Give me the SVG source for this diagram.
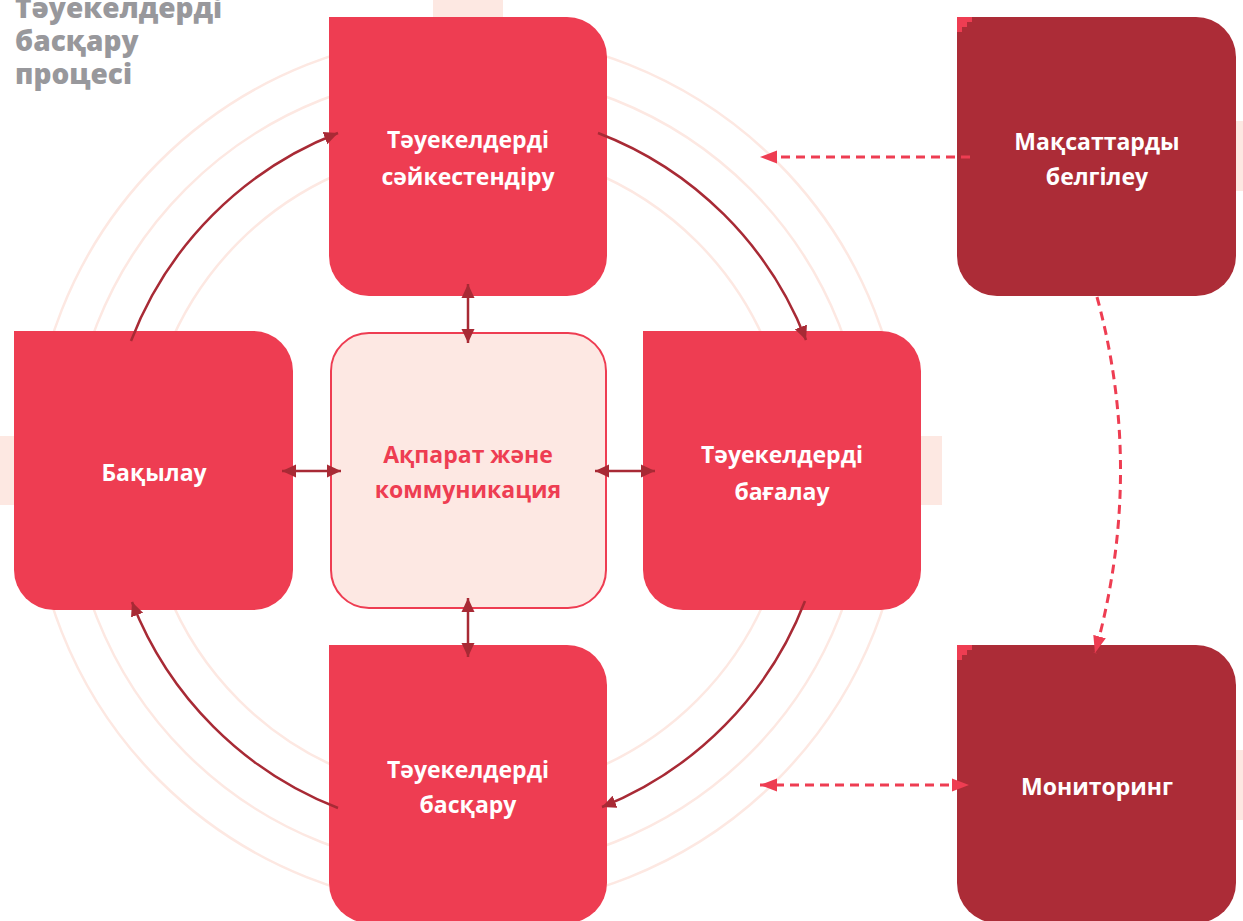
<svg xmlns="http://www.w3.org/2000/svg" width="1243" height="921" viewBox="0 0 1243 921">
<style>
.bg{fill:#fde8e2}
.ring{fill:none;stroke:#fde8e2;stroke-width:2.5}
.red{fill:#ee3d52}
.dark{fill:#ac2c37}
.lbl{font-family:"Open Sans","Noto Sans","Liberation Sans",sans-serif;font-weight:700;font-size:23px;text-anchor:middle;fill:#ffffff}
.lblc{fill:#ee3d52}
.title{font-family:"Open Sans","Noto Sans","Liberation Sans",sans-serif;font-weight:800;font-size:28px;fill:#98989c}
.solid{fill:none;stroke:#a82a35;stroke-width:2.5}
.dash{fill:none;stroke:#ee3d52;stroke-width:3;stroke-dasharray:9 6}
</style>
<defs>
<marker id="ah" markerUnits="userSpaceOnUse" markerWidth="15" markerHeight="14" refX="14" refY="7" orient="auto-start-reverse" viewBox="0 0 15 14">
<path d="M0,0.5 L14,7 L0,13.5 z" fill="#a82a35"/>
</marker>
<marker id="ahd" markerUnits="userSpaceOnUse" markerWidth="18" markerHeight="14" refX="17" refY="7" orient="auto-start-reverse" viewBox="0 0 18 14">
<path d="M0,0.5 L17,7 L0,13.5 z" fill="#ee3d52"/>
</marker>
</defs>

<g id="background">
<rect class="bg" x="433" y="0" width="70" height="17"/>
<rect class="bg" x="0" y="436" width="14" height="69"/>
<rect class="bg" x="921" y="436" width="21" height="69"/>
<rect class="bg" x="1236" y="121" width="7" height="70"/>
<rect class="bg" x="1236" y="750" width="7" height="70"/>
<circle class="ring" cx="468" cy="471" r="437"/>
<circle class="ring" cx="468" cy="471" r="399"/>
<circle class="ring" cx="468" cy="471" r="324"/>
</g>

<g id="title">
<text class="title" x="15" y="18">Тәуекелдерді</text>
<text class="title" x="15" y="51">басқару</text>
<text class="title" x="15" y="84">процесі</text>
</g>

<g id="node-identify">
<path class="red" d="M329,17 H567 A40,40 0 0 1 607,57 V256 A40,40 0 0 1 567,296 H369 A40,40 0 0 1 329,256 Z"/>
<text class="lbl" x="468" y="148">Тәуекелдерді</text>
<text class="lbl" x="468" y="185">сәйкестендіру</text>
</g>
<g id="node-control">
<path class="red" d="M14,331 H253 A40,40 0 0 1 293,371 V570 A40,40 0 0 1 253,610 H54 A40,40 0 0 1 14,570 Z"/>
<text class="lbl" x="154" y="481">Бақылау</text>
</g>
<g id="node-info">
<rect x="331" y="333" width="275" height="275" rx="38" fill="#fde8e3" stroke="#ee3d52" stroke-width="2"/>
<text class="lbl lblc" x="468" y="463">Ақпарат және</text>
<text class="lbl lblc" x="468" y="498">коммуникация</text>
</g>
<g id="node-assess">
<path class="red" d="M643,331 H881 A40,40 0 0 1 921,371 V570 A40,40 0 0 1 881,610 H683 A40,40 0 0 1 643,570 Z"/>
<text class="lbl" x="782" y="463">Тәуекелдерді</text>
<text class="lbl" x="782" y="500">бағалау</text>
</g>
<g id="node-manage">
<path class="red" d="M329,645 H567 A40,40 0 0 1 607,685 V883 A40,40 0 0 1 567,923 H369 A40,40 0 0 1 329,883 Z"/>
<text class="lbl" x="468" y="778">Тәуекелдерді</text>
<text class="lbl" x="468" y="813">басқару</text>
</g>
<g id="node-goals">
<path class="dark" d="M957,17 H1196 A40,40 0 0 1 1236,57 V256 A40,40 0 0 1 1196,296 H997 A40,40 0 0 1 957,256 Z"/>
<path class="red" d="M957,17 H972 V22 H967 V27 H962 V32 H957 Z"/>
<text class="lbl" x="1097" y="150">Мақсаттарды</text>
<text class="lbl" x="1097" y="185">белгілеу</text>
</g>
<g id="node-monitoring">
<path class="dark" d="M957,645 H1196 A40,40 0 0 1 1236,685 V883 A40,40 0 0 1 1196,923 H997 A40,40 0 0 1 957,883 Z"/>
<path class="red" d="M957,645 H972 V650 H967 V655 H962 V660 H957 Z"/>
<text class="lbl" x="1097" y="795">Мониторинг</text>
</g>

<g id="connectors">
<path class="solid" d="M598,133 A362,362 0 0 1 806,340" marker-end="url(#ah)"/>
<path class="solid" d="M805,601 A362,362 0 0 1 602,807" marker-end="url(#ah)"/>
<path class="solid" d="M338,808 A362,362 0 0 1 132,602" marker-end="url(#ah)"/>
<path class="solid" d="M131,341 A362,362 0 0 1 338,133" marker-end="url(#ah)"/>
<path class="solid" d="M468,284 V343" marker-start="url(#ah)" marker-end="url(#ah)"/>
<path class="solid" d="M468,598 V657" marker-start="url(#ah)" marker-end="url(#ah)"/>
<path class="solid" d="M282,471 H341" marker-start="url(#ah)" marker-end="url(#ah)"/>
<path class="solid" d="M595,471 H655" marker-start="url(#ah)" marker-end="url(#ah)"/>
<path class="dash" d="M970,157 H760" marker-end="url(#ahd)"/>
<path class="dash" d="M760,785 H969" marker-start="url(#ahd)" marker-end="url(#ahd)"/>
<path class="dash" d="M1097,297 Q1145,473 1095,653" marker-end="url(#ahd)"/>
</g>
</svg>
